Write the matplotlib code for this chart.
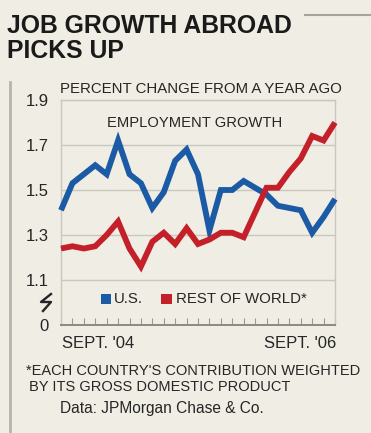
import matplotlib
matplotlib.use("Agg")
import matplotlib.pyplot as plt
from matplotlib.lines import Line2D
from matplotlib.patches import Rectangle
import matplotlib.transforms as mtransforms

# Monthly employment growth, Sept. 2004 - Sept. 2006 (percent change from a year ago)
months = list(range(25))
us_growth = [1.41, 1.53, 1.57, 1.61, 1.57, 1.72, 1.57, 1.53, 1.42, 1.49,
             1.63, 1.68, 1.57, 1.32, 1.50, 1.50, 1.54, 1.51, 1.48, 1.43,
             1.42, 1.41, 1.31, 1.38, 1.46]
world_growth = [1.24, 1.25, 1.24, 1.25, 1.30, 1.36, 1.24, 1.16, 1.27, 1.31,
                1.26, 1.33, 1.26, 1.28, 1.31, 1.31, 1.29, 1.40, 1.51, 1.51,
                1.58, 1.64, 1.74, 1.72, 1.80]
y_ticks = [1.1, 1.3, 1.5, 1.7, 1.9]
y_tick_labels = ["1.1", "1.3", "1.5", "1.7", "1.9"]
x_labels = ["SEPT. '04", "SEPT. '06"]
series_names = ["U.S.", "REST OF WORLD*"]

BG = "#efede4"
BLUE = "#1b5aa5"
RED = "#c3202a"
INK = "#262626"
GRID = "#c9c8c0"

plt.rcParams["font.family"] = ["Liberation Sans", "DejaVu Sans"]

W, H = 371, 433
fig = plt.figure(figsize=(W / 100, H / 100), dpi=100, facecolor=BG)

def fx(px):
    return px / W

def fy(py):
    return 1 - py / H

# plot area: x 61..335 px, y 100..325 px
left, right, top, bottom = 61, 335, 100, 325
ax = fig.add_axes([fx(left), fy(bottom), fx(right - left), fy(top) - fy(bottom)])
ax.set_facecolor(BG)

# axis break: the bottom of the axis stands for zero
y_floor = 0.9
ax.set_ylim(y_floor, 1.9)
ax.set_xlim(months[0], months[-1])

for v in y_ticks:
    ax.axhline(v, color=GRID, lw=1.0, zorder=1)

ax.plot(months, us_growth, color=BLUE, lw=4.2, solid_joinstyle="miter",
        solid_capstyle="butt", zorder=3, clip_on=False)
ax.plot(months, world_growth, color=RED, lw=4.2, solid_joinstyle="miter",
        solid_capstyle="butt", zorder=4, clip_on=False)

for s in ["top", "right", "left"]:
    ax.spines[s].set_color(GRID)
    ax.spines[s].set_linewidth(1.0)
ax.spines["bottom"].set_color("#8a8a85")
ax.spines["bottom"].set_linewidth(1.4)

ax.set_yticks([y_floor] + y_ticks)
ax.set_yticklabels(["0"] + y_tick_labels)
ax.tick_params(axis="y", length=0, pad=9, labelsize=12, labelcolor=INK)
ax.set_xticks(months)
ax.set_xticklabels([])
ax.tick_params(axis="x", direction="in", length=5, width=0.8, color="#9a9a95")

# zigzag break marker left of the axis
blend = mtransforms.blended_transform_factory(fig.transFigure, fig.transFigure)
zx = [fx(51), fx(41), fx(51), fx(43)]
zy = [fy(294), fy(302), fy(302), fy(311)]
fig.add_artist(Line2D(zx, zy, color=INK, lw=1.7, transform=blend))

ax.text(fx(195), fy(123), "EMPLOYMENT GROWTH", transform=blend, ha="center",
        va="center", fontsize=10.6, color=INK)

# legend row
fig.add_artist(Rectangle((fx(101), fy(304)), fx(10), fy(294) - fy(304),
                         facecolor=BLUE, edgecolor="none", transform=fig.transFigure))
fig.text(fx(114), fy(299), series_names[0], ha="left", va="center",
         fontsize=10.8, color=INK)
fig.add_artist(Rectangle((fx(161), fy(304)), fx(11), fy(294) - fy(304),
                         facecolor=RED, edgecolor="none", transform=fig.transFigure))
fig.text(fx(176), fy(299), series_names[1], ha="left", va="center",
         fontsize=10.8, color=INK)

# x labels at the ends of the axis
fig.text(fx(62), fy(344), x_labels[0], ha="left", va="center", fontsize=12, color=INK)
fig.text(fx(336), fy(344), x_labels[1], ha="right", va="center", fontsize=12, color=INK)

# title and subtitle
fig.text(fx(7), fy(26), "JOB GROWTH ABROAD", ha="left", va="center",
         fontsize=17.8, fontweight="bold", color="#1a1a1a")
fig.text(fx(7), fy(51), "PICKS UP", ha="left", va="center",
         fontsize=17.8, fontweight="bold", color="#1a1a1a")
fig.text(fx(60), fy(89), "PERCENT CHANGE FROM A YEAR AGO", ha="left", va="center",
         fontsize=10.8, color=INK)

# footnote and source
fig.text(fx(26), fy(371), "*EACH COUNTRY'S CONTRIBUTION WEIGHTED", ha="left",
         va="center", fontsize=10.5, color=INK)
fig.text(fx(29), fy(387), "BY ITS GROSS DOMESTIC PRODUCT", ha="left",
         va="center", fontsize=10.5, color=INK)
fig.text(fx(60), fy(408), "Data: JPMorgan Chase & Co.", ha="left", va="center",
         fontsize=11.2, color=INK)

# decorative rules
fig.add_artist(Line2D([fx(10), fx(10)], [fy(82), fy(433)], color="#b5b4ad",
                      lw=2.0, transform=fig.transFigure))
fig.add_artist(Line2D([fx(305), fx(371)], [fy(15), fy(15)], color="#a5a49e",
                      lw=1.5, transform=fig.transFigure))

fig.savefig("out.png", dpi=100, facecolor=BG)
